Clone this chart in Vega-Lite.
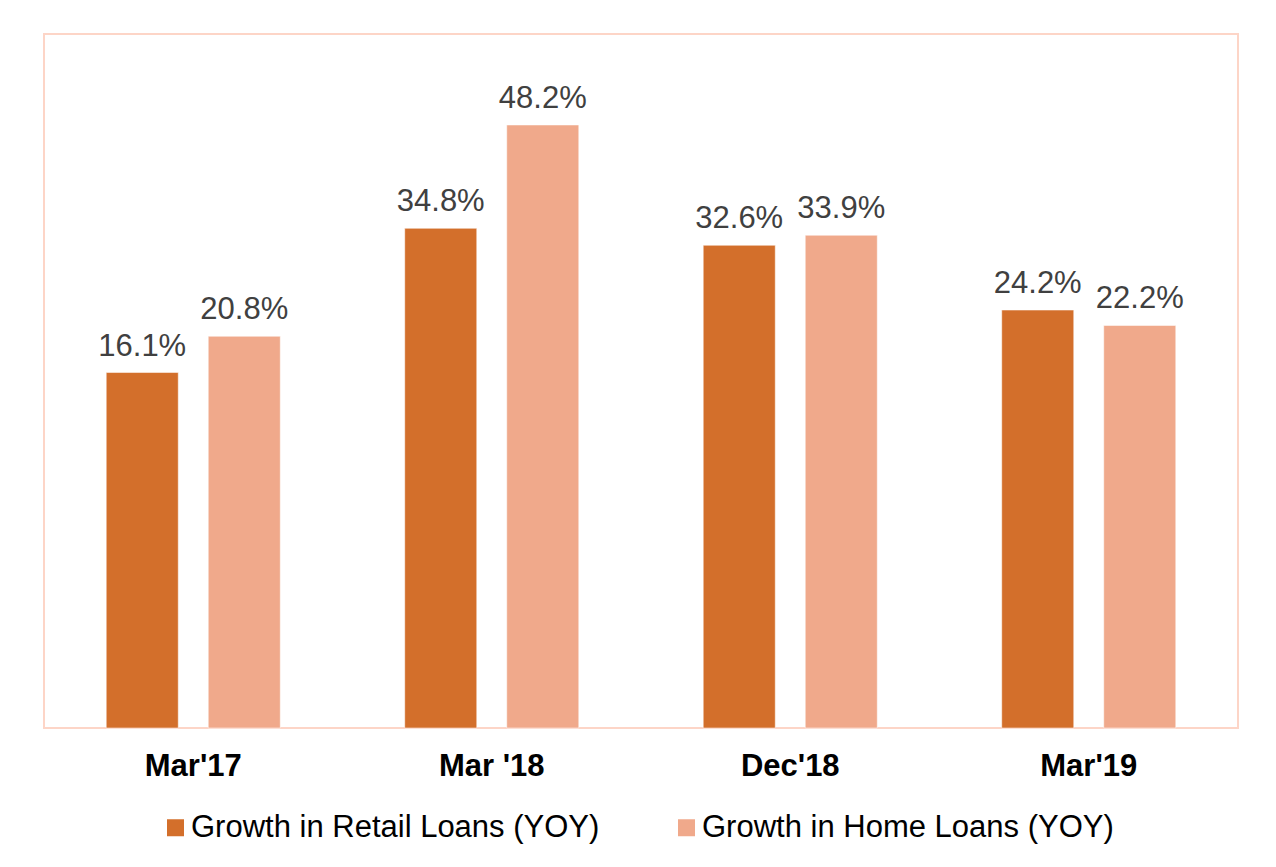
{
  "$schema": "https://vega.github.io/schema/vega-lite/v6.json",
  "width": 1194,
  "height": 694,
  "autosize": {"type": "none"},
  "padding": {"left": 44, "top": 34, "right": 38, "bottom": 139},
  "background": "#ffffff",
  "config": {
    "font": "Liberation Sans",
    "view": {"stroke": "#FDD5C7", "strokeWidth": 2}
  },
  "data": {
    "values": [
      {"period": "Mar'17", "series": "Growth in Retail Loans (YOY)", "value": 16.1},
      {"period": "Mar'17", "series": "Growth in Home Loans (YOY)", "value": 20.8},
      {"period": "Mar '18", "series": "Growth in Retail Loans (YOY)", "value": 34.8},
      {"period": "Mar '18", "series": "Growth in Home Loans (YOY)", "value": 48.2},
      {"period": "Dec'18", "series": "Growth in Retail Loans (YOY)", "value": 32.6},
      {"period": "Dec'18", "series": "Growth in Home Loans (YOY)", "value": 33.9},
      {"period": "Mar'19", "series": "Growth in Retail Loans (YOY)", "value": 24.2},
      {"period": "Mar'19", "series": "Growth in Home Loans (YOY)", "value": 22.2}
    ]
  },
  "encoding": {
    "x": {
      "field": "period",
      "type": "nominal",
      "sort": null,
      "scale": {"paddingInner": 0, "paddingOuter": 0},
      "axis": {
        "title": null,
        "labelAngle": 0,
        "labelFontSize": 31,
        "labelFontWeight": "bold",
        "labelColor": "#000000",
        "labelPadding": 23,
        "ticks": false,
        "domain": false,
        "grid": false
      }
    },
    "xOffset": {
      "field": "series",
      "type": "nominal",
      "sort": ["Growth in Retail Loans (YOY)", "Growth in Home Loans (YOY)"],
      "scale": {"paddingInner": 0.294, "paddingOuter": 0.61}
    },
    "y": {
      "field": "value",
      "type": "quantitative",
      "scale": {"domain": [-30, 60], "nice": false, "zero": false},
      "axis": null
    }
  },
  "layer": [
    {
      "mark": {"type": "bar", "stroke": "#ffffff", "strokeWidth": 1, "strokeOpacity": 0.5},
      "encoding": {
        "y2": {"datum": -30},
        "color": {
          "field": "series",
          "type": "nominal",
          "scale": {
            "domain": ["Growth in Retail Loans (YOY)", "Growth in Home Loans (YOY)"],
            "range": ["#D36F2B", "#F0A98B"]
          },
          "legend": {
            "title": null,
            "orient": "none",
            "legendX": 116,
            "legendY": 778,
            "direction": "horizontal",
            "symbolType": "square",
            "symbolSize": 289,
            "symbolStrokeWidth": 0,
            "symbolOpacity": 1,
            "labelFontSize": 31,
            "labelColor": "#000000",
            "labelOffset": 0,
            "labelLimit": 600,
            "columnPadding": 71,
            "padding": 0
          }
        }
      }
    },
    {
      "transform": [{"calculate": "format(datum.value, '.1f') + '%'", "as": "label"}],
      "mark": {"type": "text", "baseline": "alphabetic", "dy": -17, "fontSize": 31, "color": "#404040"},
      "encoding": {
        "text": {"field": "label", "type": "nominal"}
      }
    }
  ]
}
